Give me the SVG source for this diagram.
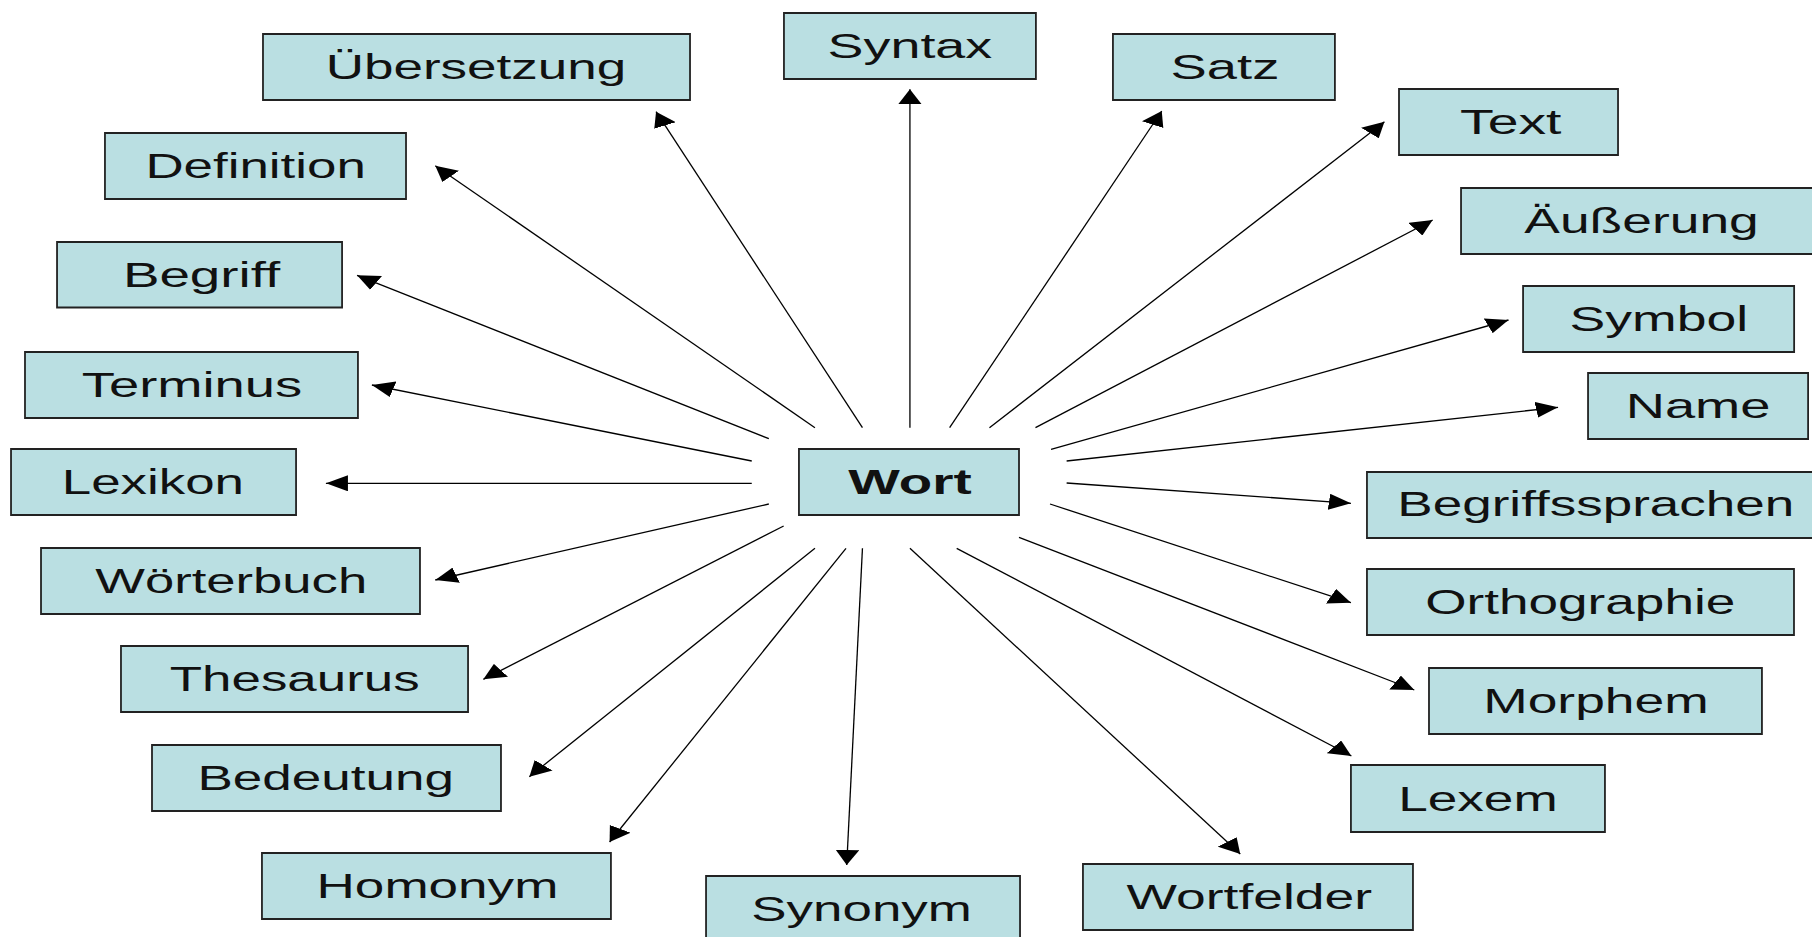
<svg xmlns="http://www.w3.org/2000/svg" width="1812" height="937" viewBox="0 0 1812 937">
<style>
.box{fill:#badfe2;stroke:#222;stroke-width:1.8;vector-effect:non-scaling-stroke}
.lbl{font-family:"Liberation Sans",Arial,sans-serif;font-size:35px;fill:#111;text-anchor:middle}
.bold{font-weight:bold}
.edge{stroke:#000;stroke-width:1.3;fill:none;vector-effect:non-scaling-stroke;marker-end:url(#arr)}
</style>
<defs>
<marker id="arr" markerUnits="userSpaceOnUse" markerWidth="15" markerHeight="16" refX="15" refY="8" orient="auto" viewBox="0 0 15 16">
<path d="M0,0 L15,8 L0,16 z" fill="#000"/>
</marker>
</defs>
<rect width="1812" height="937" fill="#fff"/>
<g transform="scale(1.47 1)">
<g id="connectors">
<line class="edge" x1="586.7" y1="427.7" x2="446.3" y2="111.7"/>
<line class="edge" x1="619" y1="427.7" x2="619" y2="89.3"/>
<line class="edge" x1="646" y1="427.7" x2="790.3" y2="111"/>
<line class="edge" x1="673.1" y1="427.7" x2="941.8" y2="121.7"/>
<line class="edge" x1="704.4" y1="427.7" x2="974.6" y2="220"/>
<line class="edge" x1="715" y1="449.3" x2="1026.2" y2="320"/>
<line class="edge" x1="725.6" y1="461" x2="1059.9" y2="407.3"/>
<line class="edge" x1="725.6" y1="483" x2="919" y2="503.3"/>
<line class="edge" x1="714.3" y1="504" x2="919" y2="602.7"/>
<line class="edge" x1="693.2" y1="537.3" x2="962.1" y2="690"/>
<line class="edge" x1="650.8" y1="548.3" x2="919.3" y2="756"/>
<line class="edge" x1="619" y1="548.3" x2="843.7" y2="854"/>
<line class="edge" x1="586.7" y1="548.3" x2="576" y2="865"/>
<line class="edge" x1="575.5" y1="548.3" x2="414.7" y2="842"/>
<line class="edge" x1="554.4" y1="548.3" x2="360.1" y2="776.7"/>
<line class="edge" x1="533.1" y1="526" x2="328.8" y2="679.3"/>
<line class="edge" x1="523" y1="504" x2="296.1" y2="580"/>
<line class="edge" x1="511.4" y1="483.3" x2="221.7" y2="483.3"/>
<line class="edge" x1="511.4" y1="461" x2="253" y2="385"/>
<line class="edge" x1="523" y1="438.7" x2="242.9" y2="275.3"/>
<line class="edge" x1="554.4" y1="427.7" x2="296.1" y2="165.7"/>
</g>
<g id="wort"><rect class="box" x="543.5" y="449" width="149.7" height="66"/><text class="lbl bold" x="619" y="494.5" textLength="84" lengthAdjust="spacingAndGlyphs">Wort</text></g>
<g id="uebersetzung"><rect class="box" x="178.9" y="34" width="290.5" height="66"/><text class="lbl" x="323.8" y="79.5" textLength="204.5" lengthAdjust="spacingAndGlyphs">Übersetzung</text></g>
<g id="definition"><rect class="box" x="71.4" y="133" width="204.8" height="66"/><text class="lbl" x="173.9" y="178.5" textLength="150" lengthAdjust="spacingAndGlyphs">Definition</text></g>
<g id="begriff"><rect class="box" x="38.8" y="242" width="193.9" height="65.5"/><text class="lbl" x="137.1" y="287" textLength="107" lengthAdjust="spacingAndGlyphs">Begriff</text></g>
<g id="syntax"><rect class="box" x="533.3" y="13" width="171.4" height="66"/><text class="lbl" x="619" y="58.5" textLength="112" lengthAdjust="spacingAndGlyphs">Syntax</text></g>
<g id="satz"><rect class="box" x="757.1" y="34" width="151" height="66"/><text class="lbl" x="833.3" y="79.5" textLength="74" lengthAdjust="spacingAndGlyphs">Satz</text></g>
<g id="text"><rect class="box" x="951.7" y="89" width="149" height="66"/><text class="lbl" x="1027.7" y="134.5" textLength="69" lengthAdjust="spacingAndGlyphs">Text</text></g>
<g id="aeusserung"><rect class="box" x="993.9" y="188" width="245.6" height="66"/><text class="lbl" x="1116.7" y="233.5" textLength="159.5" lengthAdjust="spacingAndGlyphs">Äußerung</text></g>
<g id="symbol"><rect class="box" x="1036.1" y="286" width="184.4" height="66"/><text class="lbl" x="1128.5" y="331.5" textLength="121.5" lengthAdjust="spacingAndGlyphs">Symbol</text></g>
<g id="name"><rect class="box" x="1080.3" y="373" width="149.7" height="66"/><text class="lbl" x="1155.2" y="418.5" textLength="98.5" lengthAdjust="spacingAndGlyphs">Name</text></g>
<g id="begriffssprachen"><rect class="box" x="929.9" y="472" width="311.6" height="66"/><text class="lbl" x="1085.6" y="516.5" textLength="270" lengthAdjust="spacingAndGlyphs">Begriffssprachen</text></g>
<g id="orthographie"><rect class="box" x="929.9" y="569" width="290.5" height="66"/><text class="lbl" x="1075" y="614.5" textLength="211" lengthAdjust="spacingAndGlyphs">Orthographie</text></g>
<g id="morphem"><rect class="box" x="972.1" y="668" width="226.5" height="66"/><text class="lbl" x="1085.7" y="713.5" textLength="153.5" lengthAdjust="spacingAndGlyphs">Morphem</text></g>
<g id="lexem"><rect class="box" x="919" y="765" width="172.8" height="67"/><text class="lbl" x="1005.4" y="811" textLength="108.5" lengthAdjust="spacingAndGlyphs">Lexem</text></g>
<g id="wortfelder"><rect class="box" x="736.7" y="864" width="224.5" height="66"/><text class="lbl" x="849.9" y="909.5" textLength="167" lengthAdjust="spacingAndGlyphs">Wortfelder</text></g>
<g id="synonym"><rect class="box" x="480.3" y="876" width="213.6" height="70"/><text class="lbl" x="586.1" y="921.5" textLength="150" lengthAdjust="spacingAndGlyphs">Synonym</text></g>
<g id="homonym"><rect class="box" x="178.2" y="853" width="237.4" height="66"/><text class="lbl" x="297.6" y="898.5" textLength="164.5" lengthAdjust="spacingAndGlyphs">Homonym</text></g>
<g id="bedeutung"><rect class="box" x="103.4" y="745" width="237.4" height="66"/><text class="lbl" x="221.6" y="790.5" textLength="174.5" lengthAdjust="spacingAndGlyphs">Bedeutung</text></g>
<g id="thesaurus"><rect class="box" x="82.3" y="646" width="236.1" height="66"/><text class="lbl" x="200.5" y="691.5" textLength="170" lengthAdjust="spacingAndGlyphs">Thesaurus</text></g>
<g id="woerterbuch"><rect class="box" x="27.9" y="548" width="257.8" height="66"/><text class="lbl" x="157.3" y="593.5" textLength="185" lengthAdjust="spacingAndGlyphs">Wörterbuch</text></g>
<g id="lexikon"><rect class="box" x="7.5" y="449" width="193.9" height="66"/><text class="lbl" x="104" y="494.5" textLength="124" lengthAdjust="spacingAndGlyphs">Lexikon</text></g>
<g id="terminus"><rect class="box" x="17" y="352" width="226.5" height="66"/><text class="lbl" x="130.6" y="397" textLength="150" lengthAdjust="spacingAndGlyphs">Terminus</text></g>
</g>
</svg>
